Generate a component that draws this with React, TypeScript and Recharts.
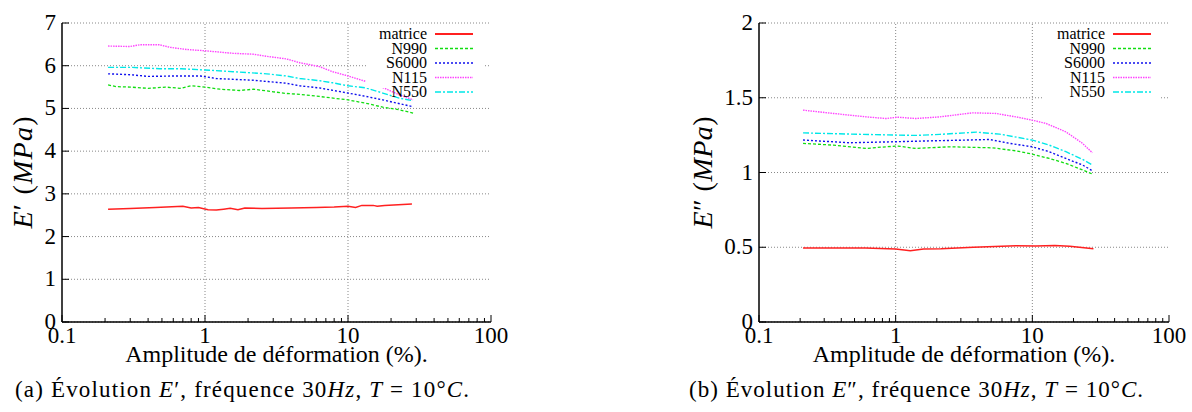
import React from 'react';
import { LineChart, Line, XAxis, YAxis, CartesianGrid, ReferenceLine } from 'recharts';

type Pt = [number, number];

// axes
const AMP_MAJOR = [0.1, 1, 10, 100];
const AMP_MINOR = [0.2, 0.3, 0.4, 0.5, 0.6, 0.7, 0.8, 0.9, 2, 3, 4, 5, 6, 7, 8, 9, 20, 30, 40, 50, 60, 70, 80, 90];
const AMP_GRID = [1, 10];
const E1_TICKS = [0, 1, 2, 3, 4, 5, 6, 7];
const E2_TICKS = [0, 0.5, 1, 1.5, 2];
const SERIES_NAMES = ['matrice', 'N990', 'S6000', 'N115', 'N550'];

// E' (MPa) vs amplitude (%)
const matriceE1: Pt[] = [[0.21, 2.64], [0.3, 2.66], [0.45, 2.68], [0.7, 2.71], [0.8, 2.67], [0.9, 2.68], [1.05, 2.63], [1.2, 2.62], [1.35, 2.64], [1.5, 2.66], [1.7, 2.63], [1.9, 2.67], [2.5, 2.66], [4, 2.67], [6, 2.68], [8, 2.69], [10, 2.71], [11.3, 2.68], [12.5, 2.73], [15, 2.73], [16, 2.71], [18, 2.73], [28, 2.76]];
const n990E1: Pt[] = [[0.21, 5.55], [0.24, 5.51], [0.3, 5.5], [0.4, 5.47], [0.53, 5.5], [0.67, 5.47], [0.8, 5.53], [1.0, 5.5], [1.27, 5.45], [1.75, 5.42], [2.17, 5.45], [3, 5.39], [3.7, 5.35], [4.6, 5.33], [6.3, 5.28], [10, 5.2], [13.4, 5.12], [17.5, 5.03], [22.8, 4.97], [28.5, 4.89]];
const s6000E1: Pt[] = [[0.21, 5.81], [0.3, 5.79], [0.4, 5.75], [0.62, 5.76], [0.93, 5.76], [1.2, 5.7], [2.17, 5.66], [3.7, 5.59], [4.6, 5.53], [6.3, 5.48], [10, 5.36], [13.4, 5.28], [17.5, 5.2], [28.5, 5.04]];
const n115E1: Pt[] = [[0.21, 6.46], [0.3, 6.45], [0.35, 6.49], [0.48, 6.49], [0.57, 6.43], [0.74, 6.38], [1, 6.35], [1.57, 6.29], [2.17, 6.27], [2.7, 6.22], [3.7, 6.16], [4.6, 6.07], [6.3, 5.98], [7.8, 5.86], [10, 5.76], [13.4, 5.63], [17.5, 5.49], [22.8, 5.32], [28.5, 5.2]];
const n550E1: Pt[] = [[0.21, 5.96], [0.31, 5.96], [0.48, 5.93], [0.68, 5.93], [1, 5.9], [1.57, 5.86], [2.7, 5.81], [3.7, 5.76], [4.6, 5.7], [6.3, 5.65], [7.8, 5.6], [10, 5.53], [13.4, 5.48], [17.5, 5.36], [22.8, 5.24], [28.5, 5.18]];

// E'' (MPa) vs amplitude (%)
const matriceE2: Pt[] = [[0.21, 0.495], [0.6, 0.495], [1.0, 0.488], [1.28, 0.477], [1.6, 0.488], [2.15, 0.49], [3.7, 0.5], [7.6, 0.51], [10.6, 0.508], [14.6, 0.512], [18.8, 0.506], [28, 0.49]];
const n990E2: Pt[] = [[0.21, 1.195], [0.35, 1.183], [0.61, 1.161], [0.85, 1.172], [1.03, 1.177], [1.4, 1.161], [2.5, 1.172], [5.1, 1.165], [7.6, 1.145], [10, 1.123], [13.3, 1.094], [17.6, 1.061], [23.3, 1.017], [27.5, 0.99]];
const s6000E2: Pt[] = [[0.21, 1.217], [0.46, 1.199], [1.03, 1.206], [1.86, 1.212], [3.3, 1.217], [4.85, 1.221], [6.8, 1.195], [10, 1.172], [13.3, 1.139], [17.6, 1.094], [23.3, 1.05], [27.5, 1.012]];
const n115E2: Pt[] = [[0.21, 1.417], [0.35, 1.395], [0.61, 1.372], [0.85, 1.361], [1.03, 1.37], [1.4, 1.361], [2.1, 1.372], [3.65, 1.399], [5.4, 1.395], [7.6, 1.372], [10, 1.35], [12.6, 1.328], [17.6, 1.272], [23.3, 1.195], [27.5, 1.132]];
const n550E2: Pt[] = [[0.21, 1.265], [0.46, 1.257], [1.03, 1.25], [1.4, 1.248], [2.1, 1.255], [3.9, 1.27], [5.75, 1.257], [10, 1.217], [13.3, 1.183], [17.6, 1.139], [23.3, 1.088], [27.5, 1.05]];

const FONT = 'Liberation Serif';
const STYLES = [
    { stroke: '#ff2020', dash: undefined as string | undefined, width: 1.5 },
    { stroke: '#11dd11', dash: '3 2', width: 1.3 },
    { stroke: '#1010ee', dash: '2 2', width: 1.4 },
    { stroke: '#ff44ff', dash: '1.5 1', width: 1.4 },
    { stroke: '#00e8e8', dash: '6 2 2 2', width: 1.4 },
];
const AMP_TICKS = [...AMP_MAJOR, ...AMP_MINOR].sort((a, b) => a - b);

const toRows = (pts: Pt[]) => pts.map(([x, y]) => ({ x, y }));

const BottomTick = (p: any) => {
    const { x, y, payload } = p;
    const major = AMP_MAJOR.includes(payload.value);
    return (
        <g>
            <line x1={x} x2={x} y1={y} y2={y - (major ? 7 : 4)} stroke="#000" />
            {major && <text x={x} y={y + 21} textAnchor="middle" fontFamily={FONT} fontSize={23} fill="#000">{payload.value}</text>}
        </g>
    );
};
const TopTick = (p: any) => {
    const { x, y, payload } = p;
    const major = AMP_MAJOR.includes(payload.value);
    return <line x1={x} x2={x} y1={y} y2={y + (major ? 7 : 4)} stroke="#000" />;
};
const LeftTick = (p: any) => {
    const { x, y, payload } = p;
    return (
        <g>
            <line x1={x} x2={x + 7} y1={y} y2={y} stroke="#000" />
            <text x={x - 6} y={y + 7} textAnchor="end" fontFamily={FONT} fontSize={23} fill="#000">{payload.value}</text>
        </g>
    );
};
const RightTick = (p: any) => {
    const { x, y } = p;
    return <line x1={x} x2={x - 7} y1={y} y2={y} stroke="#000" />;
};

const YTitle = (p: any) => {
    const { viewBox, gap, prime } = p;
    const cx = viewBox.x + viewBox.width - gap;
    const cy = viewBox.y + viewBox.height / 2;
    return (
        <text x={cx} y={cy} transform={`rotate(-90 ${cx} ${cy})`} textAnchor="middle" dy="0.35em" fontFamily={FONT} fontSize={28}
            fill="#000" textLength={112} lengthAdjust="spacing">
            <tspan fontStyle="italic">E</tspan>
            <tspan>{prime} (</tspan>
            <tspan fontStyle="italic">MPa</tspan>
            <tspan>)</tspan>
        </text>
    );
};
const XTitle = (p: any) => {
    const { viewBox } = p;
    return (
        <text x={viewBox.x + viewBox.width / 2} y={viewBox.y + 40} textAnchor="middle" fontFamily={FONT} fontSize={24} fill="#000">
            Amplitude de déformation (%).
        </text>
    );
};

interface PanelProps {
    left: number;
    margin: { left: number; right: number };
    yMax: number;
    yTicks: number[];
    series: Pt[][];
    prime: string;
    titleGap: number;
    keyRight: number;
    keyBottom: number;
    tag: string;
    capLeft: number;
}

function Panel({ left, margin, yMax, yTicks, series, prime, titleGap, keyRight, keyBottom, tag, capLeft }: PanelProps) {
    const W = 596;
    return (
        <div style={{ position: 'absolute', left, top: 0, width: W, height: 412 }}>
            <LineChart width={W} height={412} margin={{ top: 23, right: margin.right, bottom: 52, left: margin.left }}>
                <CartesianGrid vertical={false} stroke="#888" strokeDasharray="1 2" />
                {AMP_GRID.map((g) => (
                    <ReferenceLine key={g} x={g} stroke="#888" strokeDasharray="1 2" />
                ))}
                <XAxis dataKey="x" type="number" scale="log" domain={[0.1, 100]} allowDataOverflow ticks={AMP_TICKS} interval={0}
                    tickSize={0} tickMargin={0} tick={<BottomTick />} height={38} axisLine={{ stroke: '#000', strokeWidth: 1.5 }}
                    label={<XTitle />} />
                <XAxis xAxisId="top" orientation="top" dataKey="x" type="number" scale="log" domain={[0.1, 100]} allowDataOverflow
                    ticks={AMP_TICKS} interval={0} tickSize={0} tickMargin={0} tick={<TopTick />} height={0}
                    axisLine={{ stroke: '#000', strokeWidth: 1.5 }} />
                <YAxis type="number" domain={[0, yMax]} ticks={yTicks} interval={0} tickSize={0} tickMargin={0} tick={<LeftTick />}
                    width={60} axisLine={{ stroke: '#000', strokeWidth: 1.5 }} label={<YTitle gap={titleGap} prime={prime} />} />
                <YAxis yAxisId="right" orientation="right" type="number" domain={[0, yMax]} ticks={yTicks} interval={0} tickSize={0}
                    tickMargin={0} tick={<RightTick />} width={0} axisLine={{ stroke: '#000', strokeWidth: 1.5 }} />
                {series.map((pts, i) => (
                    <Line key={SERIES_NAMES[i]} name={SERIES_NAMES[i]} data={toRows(pts)} dataKey="y" type="linear"
                        stroke={STYLES[i].stroke} strokeWidth={STYLES[i].width} strokeDasharray={STYLES[i].dash}
                        dot={false} isAnimationActive={false} />
                ))}
            </LineChart>
            <svg width={W} height={412} style={{ position: 'absolute', left: 0, top: 0, pointerEvents: 'none' }}>
                <rect x={keyRight - 61} y={26} width={117} height={keyBottom - 26} fill="#fff" />
                {SERIES_NAMES.map((name, i) => {
                    const cy = 34 + i * 14.5;
                    return (
                        <g key={name}>
                            <text x={keyRight} y={cy + 5} textAnchor="end" fontFamily={FONT} fontSize={16} fill="#000">{name}</text>
                            <line x1={keyRight + 8} x2={keyRight + 46} y1={cy} y2={cy} stroke={STYLES[i].stroke}
                                strokeWidth={i === 0 ? 2 : STYLES[i].width} strokeDasharray={STYLES[i].dash} />
                        </g>
                    );
                })}
                <text x={capLeft} y={397} fontFamily={FONT} fontSize={23} fill="#000" textLength={454} lengthAdjust="spacing">
                    <tspan>({tag}) Évolution </tspan>
                    <tspan fontStyle="italic">E</tspan>
                    <tspan>{prime}, fréquence 30</tspan>
                    <tspan fontStyle="italic">Hz</tspan>
                    <tspan>, </tspan>
                    <tspan fontStyle="italic">T</tspan>
                    <tspan> = 10°</tspan>
                    <tspan fontStyle="italic">C</tspan>
                    <tspan>.</tspan>
                </text>
            </svg>
        </div>
    );
}

export default function App() {
    return (
        <div style={{ position: 'absolute', left: 0, top: 0, width: 1192, height: 412, background: '#fff', overflow: 'hidden' }}>
            <Panel left={0} margin={{ left: 2, right: 105 }} yMax={7} yTicks={E1_TICKS}
                series={[matriceE1, n990E1, s6000E1, n115E1, n550E1]} prime="′" titleGap={40}
                keyRight={427} keyBottom={88} tag="a" capLeft={15} />
            <Panel left={596} margin={{ left: 103, right: 23 }} yMax={2} yTicks={E2_TICKS}
                series={[matriceE2, n990E2, s6000E2, n115E2, n550E2]} prime="″" titleGap={57}
                keyRight={509} keyBottom={103} tag="b" capLeft={93} />
        </div>
    );
}
